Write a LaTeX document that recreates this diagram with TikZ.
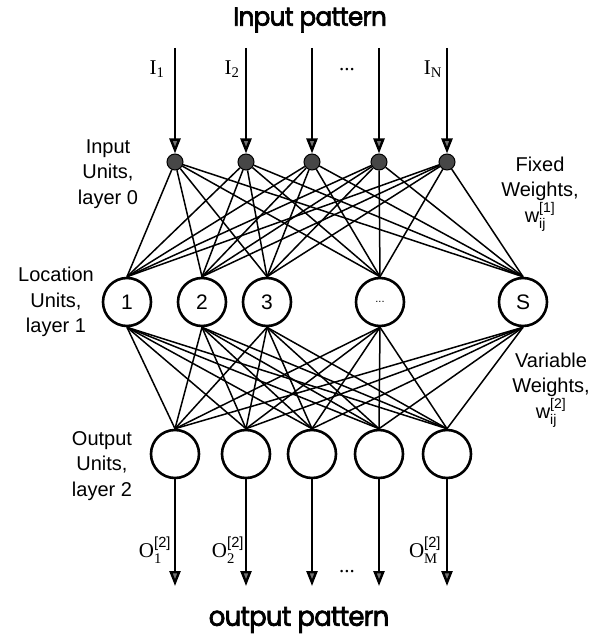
\documentclass[tikz,border=0pt]{standalone}
\usepackage{fontspec}
\usepackage{amsmath}
\setmainfont{Liberation Serif}
\newfontfamily\labfont{Liberation Sans}
\newfontfamily\headfont{Poppins}[LetterSpace=-3,FakeBold=2.6]
\usetikzlibrary{arrows.meta}
\begin{document}
\begin{tikzpicture}[x=1pt,y=-1pt,
  unit/.style={circle,draw,line width=2.6pt,minimum size=48pt,inner sep=0pt,
               font=\labfont\fontsize{21}{24}\selectfont},
  inunit/.style={circle,draw,fill=black!72,line width=1pt,minimum size=16pt,inner sep=0pt},
  link/.style={line width=1.5pt},
  flow/.style={line width=2.4pt,-{Triangle[length=15pt,width=11pt,fill=black!55]}},
  caption/.style={font=\labfont\fontsize{20}{25.5}\selectfont,align=center},
  head/.style={font=\headfont\fontsize{26}{30}\selectfont},
  sig/.style={font=\fontsize{21}{24}\selectfont}
]
\useasboundingbox[fill=white] (0,0) rectangle (600,639);

% input dots, output units and the free ends of the arrows
\foreach \n/\x in {1/175,2/246,3/312,4/379,5/447} {
  \node[inunit] (i\n) at (\x,162) {};
  \node[unit] (o\n) at (\x,454) {};
  \coordinate (t\n) at (\x,48);
  \coordinate (b\n) at (\x,586);
}

% location units
\node[unit] (l1) at (127,302) {1};
\node[unit] (l2) at (202,302) {2};
\node[unit] (l3) at (267,302) {3};
\node[unit] (l4) at (380,302) {\fontsize{11}{11}\selectfont...};
\node[unit] (l5) at (523,302) {S};

% fully connected layers
\foreach \a in {1,...,5} {
  \foreach \b in {1,...,5} {
    \draw[link] (i\a) -- (l\b.north);
    \draw[link] (l\a.south) -- (o\b.north);
  }
}

% input and output arrows
\foreach \n in {1,...,5} {
  \draw[flow] (t\n) -- (i\n);
  \draw[flow] (o\n) -- (b\n);
}

% signal labels
\node[sig] (sI1) at (157,69) {$\text{I}_{\text{1}}$};
\node[sig] (sI2) at (232,69) {$\text{I}_{\text{2}}$};
\node[sig] (sIdots) at (347,70) {...};
\node[sig] (sIN) at (433,69) {$\text{I}_{\text{N}}$};

\node[sig] (sO1) at (155,550) {$\text{O}_{\text{1}}^{\text{\labfont[2]}}$};
\node[sig] (sO2) at (228,550) {$\text{O}_{\text{2}}^{\text{\labfont[2]}}$};
\node[sig] (sOdots) at (347,572) {...};
\node[sig] (sOM) at (425,550) {$\text{O}_{\text{M}}^{\text{\labfont[2]}}$};

% layer captions
\node[caption] (cin) at (108,174) {Input\\Units,\\layer 0};
\node[caption] (cloc) at (56,302) {Location\\Units,\\layer 1};
\node[caption] (cout) at (102,466) {Output\\Units,\\layer 2};
\node[caption] (cfix) at (540,194) {Fixed\\Weights,\\$\text{\labfont w}_{\text{\labfont ij}}^{\text{\labfont[1]}}$};
\node[caption] (cvar) at (551,390) {Variable\\Weights,\\$\text{\labfont w}_{\text{\labfont ij}}^{\text{\labfont[2]}}$};

% pattern titles
\node[head] (hin) at (310,20) {\scalebox{0.95}[1]{Input pattern}};
\node[head] (hout) at (299,620) {\scalebox{1.0}[1.05]{output pattern}};
\end{tikzpicture}
\end{document}
